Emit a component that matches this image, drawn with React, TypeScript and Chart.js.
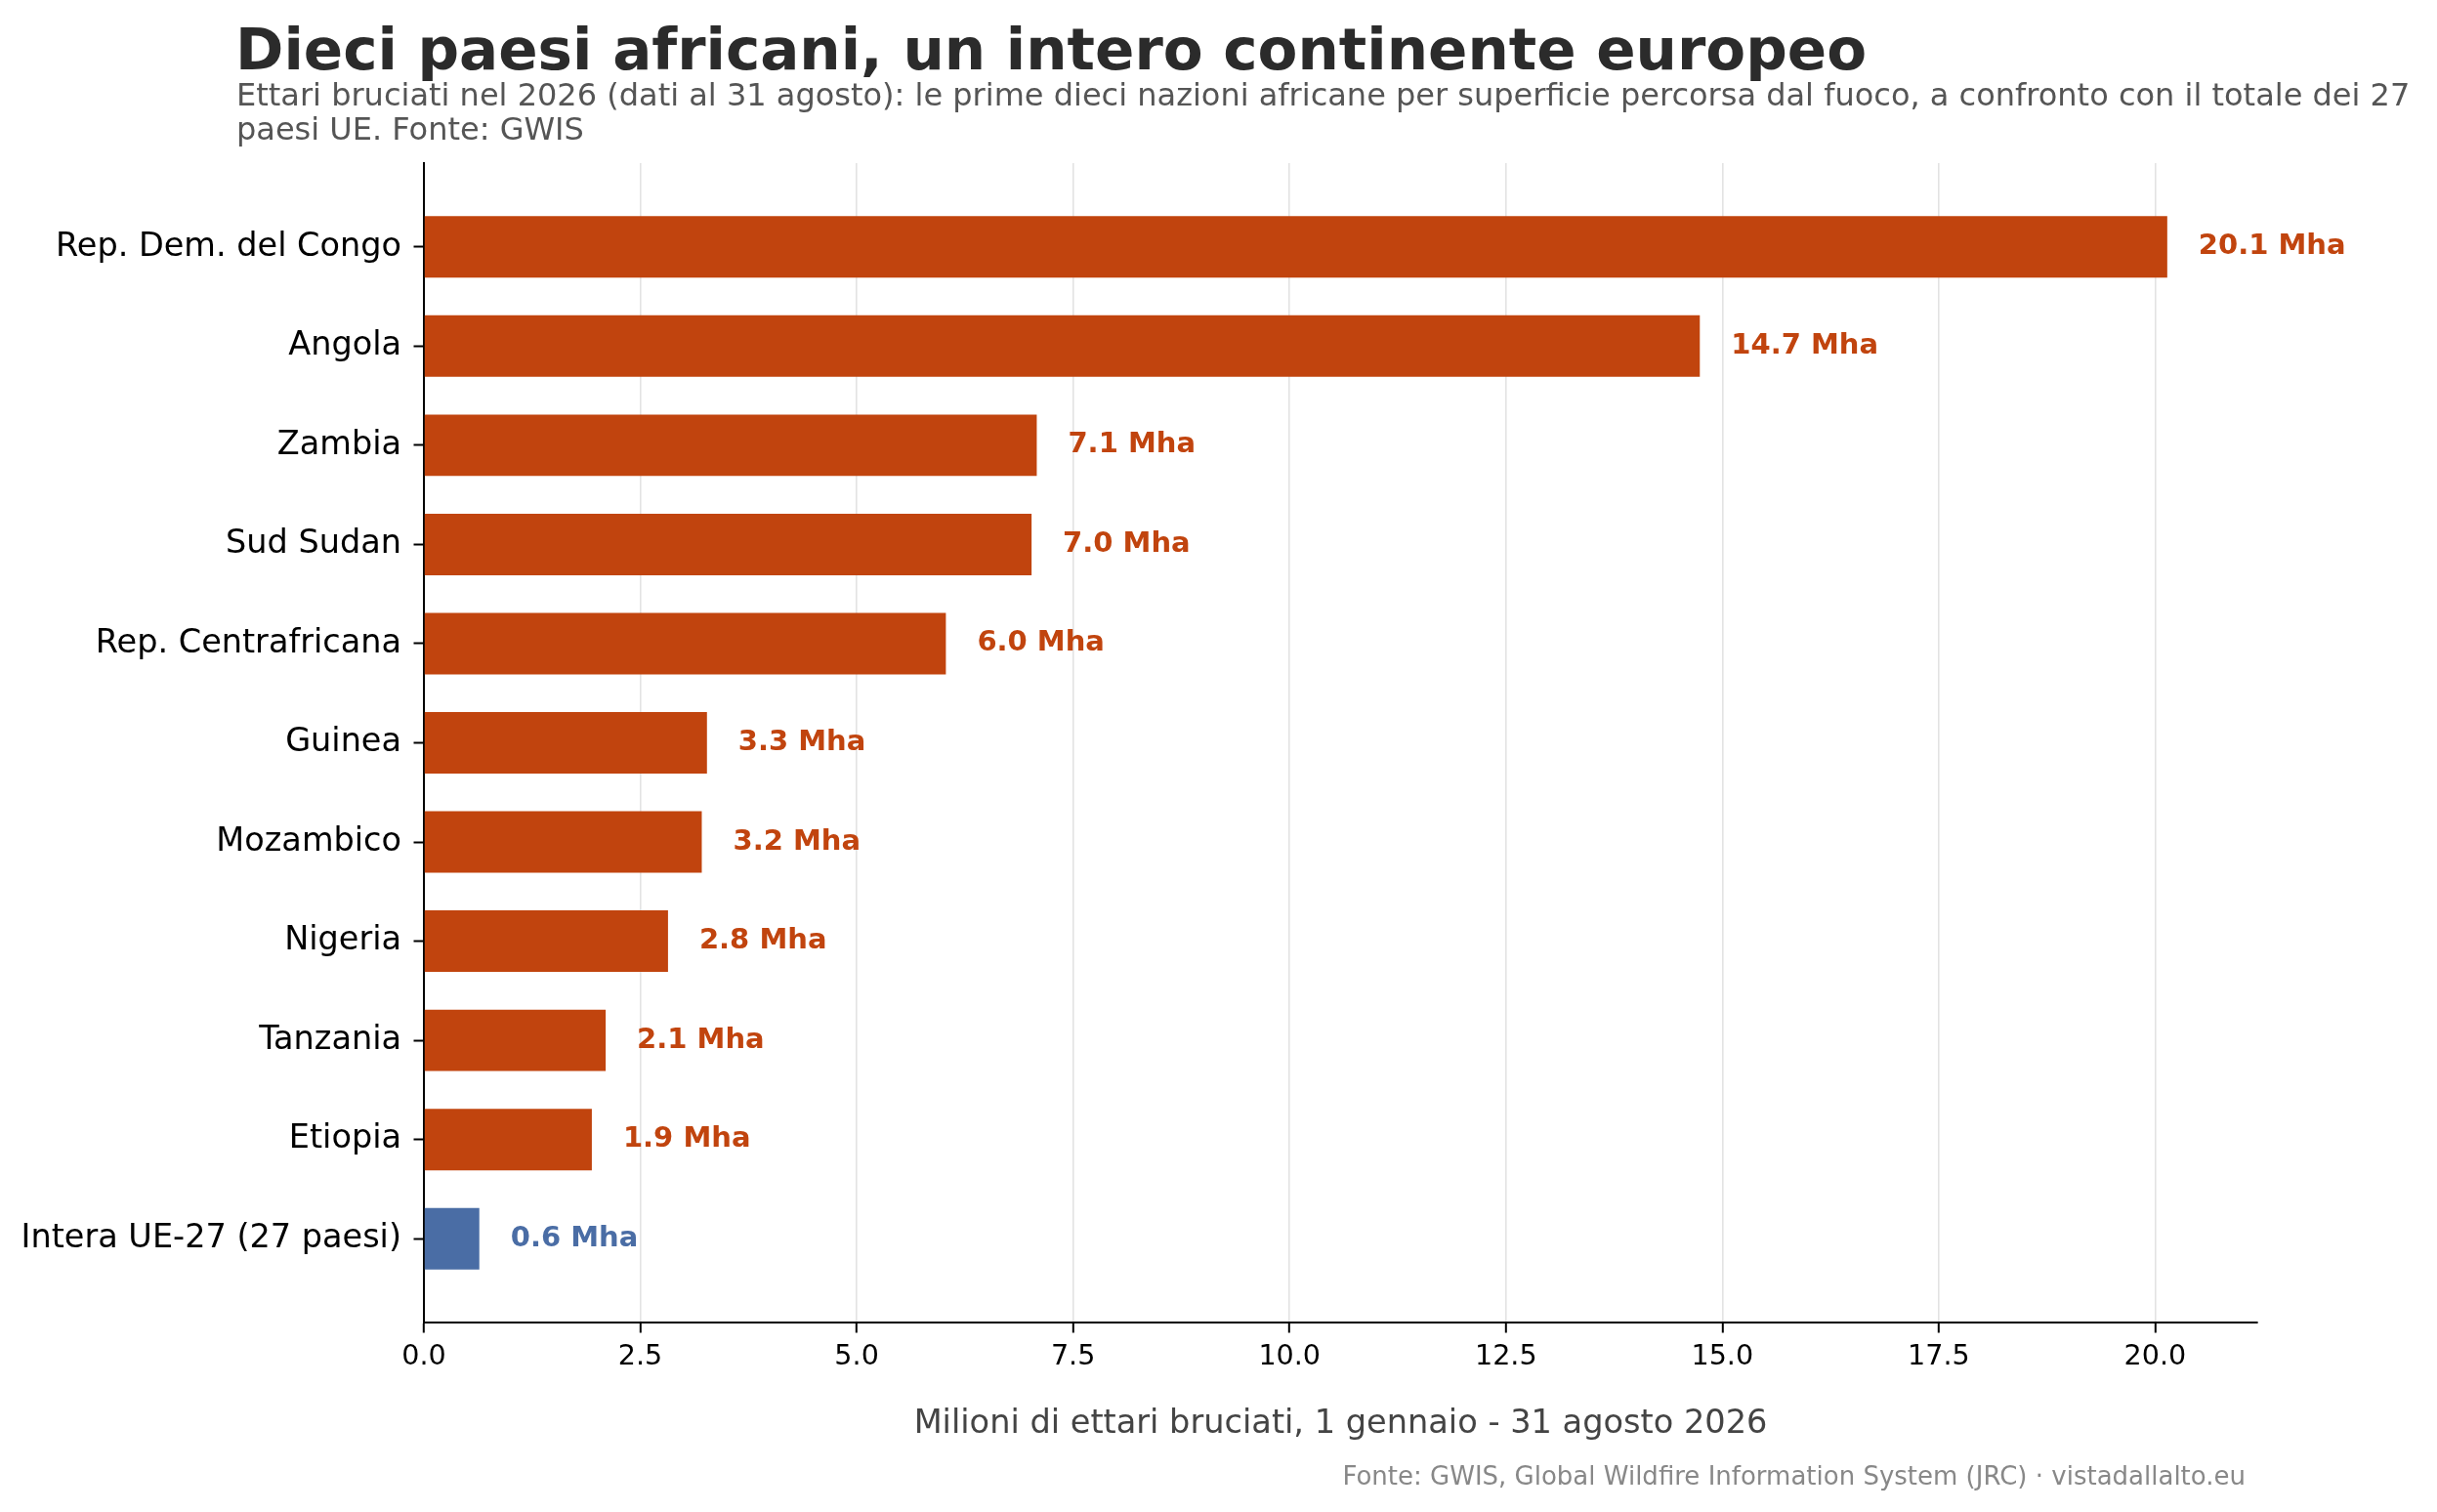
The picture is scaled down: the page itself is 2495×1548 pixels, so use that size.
import { useEffect, useRef } from "react";
import { Chart, registerables } from "chart.js";

Chart.register(...registerables);

const countries = [
  "Rep. Dem. del Congo",
  "Angola",
  "Zambia",
  "Sud Sudan",
  "Rep. Centrafricana",
  "Guinea",
  "Mozambico",
  "Nigeria",
  "Tanzania",
  "Etiopia",
  "Intera UE-27 (27 paesi)",
];

// milioni di ettari bruciati
const burned = [20.14, 14.74, 7.08, 7.02, 6.03, 3.27, 3.21, 2.82, 2.1, 1.94, 0.64];

const groups = ["africa", "africa", "africa", "africa", "africa", "africa", "africa", "africa", "africa", "africa", "eu"];

const xTicks = [0, 2.5, 5, 7.5, 10, 12.5, 15, 17.5, 20];

const TITLE = "Dieci paesi africani, un intero continente europeo";
const SUBTITLE = [
  "Ettari bruciati nel 2026 (dati al 31 agosto): le prime dieci nazioni africane per superficie percorsa dal fuoco, a confronto con il totale dei 27",
  "paesi UE. Fonte: GWIS",
];
const X_LABEL = "Milioni di ettari bruciati, 1 gennaio - 31 agosto 2026";
const FOOTER = "Fonte: GWIS, Global Wildfire Information System (JRC) · vistadallalto.eu";

const groupColors: Record<string, string> = {
  africa: "#c1440e",
  eu: "#4a6da5",
};

const FONT = '"DejaVu Sans", sans-serif';

const barColors = groups.map((g) => groupColors[g]);

const textPlugin = {
  id: "chartTexts",
  afterDatasetsDraw(chart: Chart) {
    const ctx = chart.ctx;
    const meta = chart.getDatasetMeta(0);
    ctx.save();
    ctx.font = `bold 29px ${FONT}`;
    ctx.textAlign = "left";
    ctx.textBaseline = "alphabetic";
    meta.data.forEach((bar: any, i: number) => {
      const { x, y } = bar.getProps(["x", "y"], true);
      ctx.fillStyle = barColors[i];
      ctx.fillText(`${burned[i].toFixed(1)} Mha`, x + 32, y + 7.5);
    });
    ctx.restore();
  },
  afterDraw(chart: Chart) {
    const ctx = chart.ctx;
    const area = chart.chartArea;
    ctx.save();
    ctx.textBaseline = "alphabetic";
    ctx.textAlign = "left";
    ctx.fillStyle = "#2b2b2b";
    ctx.font = `bold 59.5px ${FONT}`;
    ctx.fillText(TITLE, 241, 70.7);

    ctx.fillStyle = "#555555";
    ctx.font = `32px ${FONT}`;
    SUBTITLE.forEach((line, i) => ctx.fillText(line, 242, 108.3 + i * 34.4));

    ctx.fillStyle = "#444444";
    ctx.font = `33.6px ${FONT}`;
    ctx.textAlign = "center";
    ctx.fillText(X_LABEL, (area.left + area.right) / 2, 1467);

    ctx.fillStyle = "#888888";
    ctx.font = `26px ${FONT}`;
    ctx.textAlign = "right";
    ctx.fillText(FOOTER, 2299, 1520);
    ctx.restore();
  },
};

export default function App() {
  const canvasRef = useRef<HTMLCanvasElement | null>(null);
  const chartRef = useRef<Chart | null>(null);

  useEffect(() => {
    chartRef.current?.destroy();
    chartRef.current = null;
    const ctx = canvasRef.current?.getContext("2d");
    if (!ctx) return;

    Chart.defaults.font.family = FONT;

    chartRef.current = new Chart(ctx, {
      type: "bar",
      data: {
        datasets: [
          {
            label: "Milioni di ettari",
            data: burned.map((v, i) => ({ x: v, y: i })),
            backgroundColor: barColors,
            borderWidth: 0,
            barPercentage: 0.62,
            categoryPercentage: 1,
          },
        ],
      },
      options: {
        indexAxis: "y",
        responsive: false,
        animation: false,
        devicePixelRatio: 1,
        layout: { padding: { top: 167, right: 184, left: 0, bottom: 0 } },
        plugins: {
          legend: { display: false },
          tooltip: { enabled: false },
        },
        scales: {
          x: {
            type: "linear",
            min: 0,
            max: 21.18,
            afterFit: (scale: any) => {
              scale.height = 194;
            },
            afterBuildTicks: (scale: any) => {
              scale.ticks = xTicks.map((v) => ({ value: v }));
            },
            ticks: {
              callback: (v: any) => Number(v).toFixed(1),
              font: { size: 28.6 },
              color: "#000",
              padding: 8,
              maxRotation: 0,
              autoSkip: false,
            },
            grid: {
              color: "#e3e3e3",
              lineWidth: 1.6,
              tickColor: "#000",
              tickWidth: 2,
              tickLength: 10.5,
            },
            border: { display: true, color: "#000", width: 2 },
          },
          y: {
            type: "linear",
            min: -0.845,
            max: 10.845,
            reverse: true,
            offset: false,
            afterFit: (scale: any) => {
              scale.width = 434;
            },
            afterBuildTicks: (scale: any) => {
              scale.ticks = countries.map((_, i) => ({ value: i }));
            },
            ticks: {
              callback: (v: any) => countries[Number(v)] ?? "",
              font: { size: 33.5 },
              color: "#000",
              padding: 12.5,
              autoSkip: false,
            },
            grid: {
              offset: false,
              drawOnChartArea: false,
              tickColor: "#000",
              tickWidth: 2,
              tickLength: 10.5,
            },
            border: { display: true, color: "#000", width: 2 },
          },
        },
      },
      plugins: [textPlugin],
    });

    return () => {
      chartRef.current?.destroy();
      chartRef.current = null;
    };
  }, []);

  return (
    <div style={{ width: 2495, height: 1548, background: "#fff" }}>
      <style>{"html,body{margin:0;padding:0;overflow:hidden;background:#fff}"}</style>
      <canvas
        ref={canvasRef}
        width={2495}
        height={1548}
        style={{ display: "block", width: 2495, height: 1548 }}
      />
    </div>
  );
}
